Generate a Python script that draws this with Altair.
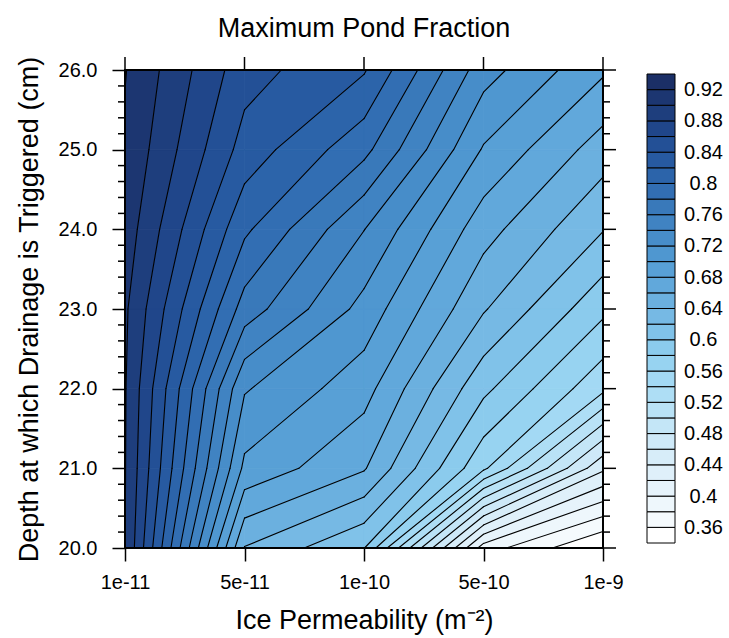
import altair as alt
import pandas as pd

# ---------------- data ----------------
x_labels = ["1e-11", "5e-11", "1e-10", "5e-10", "1e-9"]
depths = [20.0, 21.0, 22.0, 23.0, 24.0, 25.0, 26.0]

# maximum pond fraction, one list per depth (columns follow x_labels)
frac_20 = [0.9005, 0.639, 0.601, 0.390, 0.338]
frac_21 = [0.9010, 0.695, 0.662, 0.564, 0.444]
frac_22 = [0.9015, 0.722, 0.688, 0.605, 0.545]
frac_23 = [0.9033, 0.771, 0.713, 0.642, 0.585]
frac_24 = [0.9110, 0.804, 0.7405, 0.668, 0.621]
frac_25 = [0.9170, 0.832, 0.786, 0.698, 0.650]
frac_26 = [0.9210, 0.848, 0.822, 0.7285, 0.683]
grid = [frac_20, frac_21, frac_22, frac_23, frac_24, frac_25, frac_26]

levels = [0.36, 0.38, 0.40, 0.42, 0.44, 0.46, 0.48, 0.50, 0.52, 0.54,
          0.56, 0.58, 0.60, 0.62, 0.64, 0.66, 0.68, 0.70, 0.72, 0.74,
          0.76, 0.78, 0.80, 0.82, 0.84, 0.86, 0.88, 0.90, 0.92]
colors = ["#ffffff", "#f5fafd", "#eef7fc", "#e6f3fb", "#dff0fa", "#d7edf9",
          "#cee9f8", "#c4e6f7", "#b9e2f6", "#aedef5", "#a3d9f4", "#97d3f1",
          "#8bcbed", "#80c2e9", "#76b9e4", "#6bb0df", "#61a8db", "#58a0d6",
          "#4f97d0", "#478dc9", "#4083c2", "#3979ba", "#326eb3", "#2c64aa",
          "#275aa1", "#235096", "#20468a", "#1e3e7d", "#1c3671", "#1b2f66"]
cbar_labels = [0.36, 0.40, 0.44, 0.48, 0.52, 0.56, 0.60, 0.64,
               0.68, 0.72, 0.76, 0.80, 0.84, 0.88, 0.92]

title_text = "Maximum Pond Fraction"
x_title = "Ice Permeability (m\u207b\u00b2)"
y_title = "Depth at which Drainage is Triggered (cm)"

# ---------------- contouring (marching squares on the grid) ----------------
nb = len(levels) + 1
BIG = 1e9
poly_rows, seg_rows = [], []
pid = 0
for j in range(len(depths) - 1):
    for i in range(len(x_labels) - 1):
        corners = [(i, depths[j]), (i + 1, depths[j]),
                   (i + 1, depths[j + 1]), (i, depths[j + 1])]
        vals = [grid[j][i], grid[j][i + 1], grid[j + 1][i + 1], grid[j + 1][i]]
        # filled bands
        for b in range(nb):
            lo = levels[b - 1] if b > 0 else -BIG
            hi = levels[b] if b < len(levels) else BIG
            pts = []
            for e in range(4):
                p, q = corners[e], corners[(e + 1) % 4]
                a, c = vals[e], vals[(e + 1) % 4]
                if lo <= a < hi:
                    pts.append(p)
                cr = []
                for L in (lo, hi):
                    if (a - L) * (c - L) < 0:
                        cr.append((L - a) / (c - a))
                cr.sort()
                for t in cr:
                    pts.append((p[0] + t * (q[0] - p[0]), p[1] + t * (q[1] - p[1])))
            if len(pts) >= 3:
                for k, (px, py) in enumerate(pts):
                    poly_rows.append({"poly": pid, "k": k, "x": px, "y": py, "band": b})
                pid += 1
        # contour lines
        for L in levels:
            pts = []
            for e in range(4):
                p, q = corners[e], corners[(e + 1) % 4]
                a, c = vals[e], vals[(e + 1) % 4]
                if (a - L) * (c - L) < 0:
                    t = (L - a) / (c - a)
                    pts.append((p[0] + t * (q[0] - p[0]), p[1] + t * (q[1] - p[1])))
            if len(pts) == 2:
                seg_rows.append({"x": pts[0][0], "y": pts[0][1],
                                 "x2": pts[1][0], "y2": pts[1][1]})

poly_df = pd.DataFrame(poly_rows)
seg_df = pd.DataFrame(seg_rows)

cb_lo = [levels[0] - 0.02] + levels
cb_hi = levels + [levels[-1] + 0.02]
cbar_df = pd.DataFrame({"lo": cb_lo, "hi": cb_hi, "band": list(range(nb))})

minor_vals = [d + 0.2 * m for d in depths[:-1] for m in (1, 2, 3, 4)]
minor_df = pd.DataFrame({"v": minor_vals})
major_df = pd.DataFrame({"v": depths})
xtick_df = pd.DataFrame({"v": list(range(len(x_labels)))})

W = H = 478
FONT = "Liberation Sans"
LBL = 20

xs = alt.Scale(domain=[0, len(x_labels) - 1], nice=False, zero=False)
ys = alt.Scale(domain=[depths[0], depths[-1]], nice=False, zero=False)
fill_scale = alt.Scale(domain=list(range(nb)), range=colors)

label_expr = "[" + ",".join("'%s'" % s for s in x_labels) + "][datum.value]"

polys = alt.Chart(poly_df).mark_line(
    interpolate="linear-closed", strokeWidth=0.7, strokeJoin="round", fillOpacity=1
).encode(
    x=alt.X("x:Q", scale=xs, axis=alt.Axis(
        values=list(range(len(x_labels))), labelExpr=label_expr, title=x_title,
        tickSize=13, tickWidth=1.5, tickColor="black", domain=False, grid=False,
        labelFlush=False, labelFontSize=LBL, labelPadding=11, labelColor="black",
        titleFontSize=27, titleFontWeight="normal", titlePadding=15, titleColor="black")),
    y=alt.Y("y:Q", scale=ys, axis=alt.Axis(
        orient="left", values=depths, format=".1f", title=y_title,
        tickSize=13, tickWidth=1.5, tickColor="black", domain=False, grid=False,
        labelFlush=False, labelFontSize=LBL, labelPadding=15, labelColor="black",
        titleFontSize=27, titleFontWeight="normal", titlePadding=15, titleColor="black")),
    detail="poly:N",
    order="k:Q",
    fill=alt.Fill("band:O", scale=fill_scale, legend=None),
    stroke=alt.Stroke("band:O", scale=fill_scale, legend=None),
)

segs = alt.Chart(seg_df).mark_rule(color="black", strokeWidth=1.1, strokeCap="round").encode(
    x=alt.X("x:Q", scale=xs), y=alt.Y("y:Q", scale=ys), x2="x2:Q", y2="y2:Q")

left_minor = alt.Chart(minor_df).mark_rule(color="black", strokeWidth=1.5).encode(
    y=alt.Y("v:Q", scale=ys), x=alt.value(-7), x2=alt.value(0))
right_minor = alt.Chart(minor_df).mark_rule(color="black", strokeWidth=1.5).encode(
    y=alt.Y("v:Q", scale=ys), x=alt.value(W), x2=alt.value(W + 7))
right_major = alt.Chart(major_df).mark_rule(color="black", strokeWidth=1.5).encode(
    y=alt.Y("v:Q", scale=ys), x=alt.value(W), x2=alt.value(W + 13))
top_major = alt.Chart(xtick_df).mark_rule(color="black", strokeWidth=1.5).encode(
    x=alt.X("v:Q", scale=xs), y=alt.value(-13), y2=alt.value(0))

frame = alt.Chart(pd.DataFrame({"a": [0]})).mark_rect(
    fill=None, stroke="black", strokeWidth=2).encode(
    x=alt.X(datum=0, scale=xs), x2=alt.X2(datum=len(x_labels) - 1),
    y=alt.Y(datum=depths[0], scale=ys), y2=alt.Y2(datum=depths[-1]))

main = alt.layer(polys, segs, left_minor, right_minor, right_major, top_major, frame)

cbar = alt.Chart(cbar_df).mark_rect(stroke="black", strokeWidth=1).encode(
    x=alt.value(522), x2=alt.value(550),
    y=alt.Y("lo:Q", scale=alt.Scale(domain=[cb_lo[0], cb_hi[-1]], range=[473, 4],
                                    nice=False, zero=False),
            axis=alt.Axis(orient="right", offset=72, values=cbar_labels, format=".2~f",
                          tickSize=0, domain=False, grid=False, labelAlign="center",
                          labelBaseline="middle", labelPadding=28, labelFontSize=LBL,
                          labelFlush=False, labelColor="black", title=None)),
    y2="hi:Q",
    fill=alt.Fill("band:O", scale=fill_scale, legend=None),
)

chart = alt.layer(main, cbar).resolve_scale(y="independent").properties(
    width=W, height=H,
    title=alt.TitleParams(title_text, fontSize=27, fontWeight="normal", font=FONT,
                          anchor="middle", offset=13, color="black"),
    autosize=alt.AutoSizeParams(type="none"),
    padding={"left": 125, "top": 70, "right": 126, "bottom": 90},
).configure(font=FONT).configure_view(stroke=None)

chart.save("out.html", embed_options={"renderer": "svg", "actions": False})
